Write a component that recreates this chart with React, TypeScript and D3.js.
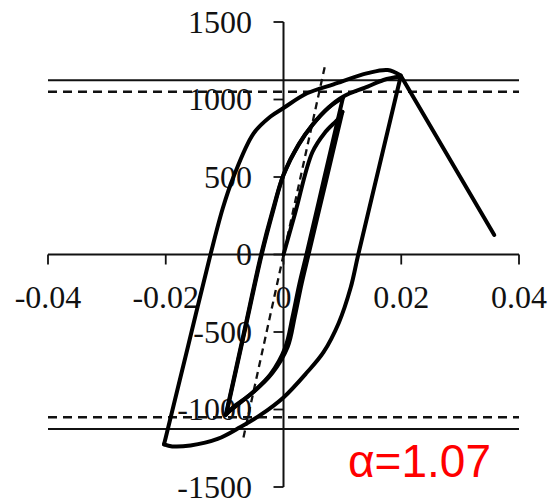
import React from "react";
import * as d3 from "d3";

// Drift ratio (rad) vs. load (kN) hysteresis
type Pt = [number, number];

const virginLoading: Pt[] = [
  [0, 0], [0.002, 270], [0.0049, 660], [0.0071, 790], [0.0094, 880], [0.0100, 920],
];
const unloading1: Pt[] = [
  [0.0100, 920], [0.00713, 460], [0.00425, 0], [0.0031, -184], [0.0019, -403],
  [0.0007, -597], [-0.0019, -765], [-0.0053, -894], [-0.0087, -990], [-0.0097, -1028],
];
const reloading1: Pt[] = [
  [-0.0097, -1028], [-0.0067, -514], [-0.0037, 0], [-0.0017, 290], [0, 513],
  [0.00255, 706], [0.0049, 835], [0.0076, 945], [0.0101, 1012],
];
const unloading2: Pt[] = [
  [0.0101, 1012], [0.0070, 506], [0.0039, 0], [0.0027, -190], [0.0015, -410],
  [0.0003, -600], [-0.0022, -772], [-0.0056, -902], [-0.0089, -1002], [-0.0098, -1035],
];
const reloading2: Pt[] = [
  [-0.0098, -1035], [-0.0068, -518], [-0.0038, 0], [-0.0018, 290], [0, 515],
  [0.0026, 712], [0.0050, 840], [0.0077, 950], [0.0101, 1018], [0.0143, 1083],
  [0.0170, 1126], [0.0199, 1148],
];
const unloading3: Pt[] = [
  [0.0199, 1148], [0.0163, 574], [0.0127, 0], [0.0114, -215], [0.0094, -440],
  [0.0068, -630], [0.0040, -760], [0, -922], [-0.0039, -1035], [-0.0073, -1113],
  [-0.0112, -1190], [-0.0158, -1232], [-0.0189, -1238], [-0.0203, -1225],
];
const reloading3: Pt[] = [
  [-0.0203, -1225], [-0.0200, -1180], [-0.0162, -590], [-0.0124, 0], [-0.0103, 300],
  [-0.0085, 500], [-0.0051, 780], [-0.0022, 890], [0, 945], [0.0040, 1040],
  [0.0085, 1098], [0.0143, 1170], [0.0177, 1190], [0.0199, 1155],
];
const softening: Pt[] = [
  [0.0199, 1155], [0.0358, 126],
];

const branches: Pt[][] = [
  virginLoading, unloading1, reloading1, unloading2, reloading2,
  unloading3, reloading3, softening,
];

// Reference strength levels and initial stiffness line
const solidLevels = [1125, -1125];
const dashedLevels = [1050, -1050];
const stiffnessLine: Pt[] = [[-0.0068, -1180], [0.0070, 1210]];

const xTicks = [-0.04, -0.02, 0, 0.02, 0.04];
const xTickLabels = ["-0.04", "-0.02", "0", "0.02", "0.04"];
const yTicks = [1500, 1000, 500, 0, -500, -1000, -1500];
const yTickLabels = ["1500", "1000", "500", "0", "-500", "-1000", "-1500"];

const W = 552;
const H = 500;

export default function App() {
  const x = d3.scaleLinear().domain([-0.04, 0.04]).range([48, 519]);
  const y = d3.scaleLinear().domain([-1500, 1500]).range([487, 22]);
  const line = d3
    .line<Pt>()
    .x((d) => x(d[0]))
    .y((d) => y(d[1]))
    .curve(d3.curveCatmullRom.alpha(0.5));
  const straight = d3
    .line<Pt>()
    .x((d) => x(d[0]))
    .y((d) => y(d[1]));

  const x0 = x(0);
  const y0 = y(0);
  const serif = "'Liberation Serif', 'Times New Roman', serif";

  return (
    <svg
      width={W}
      height={H}
      style={{ position: "absolute", left: 0, top: 0, background: "#fff" }}
    >
      <rect width={W} height={H} fill="#fff" />

      {/* strength levels */}
      {solidLevels.map((v) => (
        <line key={"s" + v} x1={x(-0.04)} x2={x(0.04)} y1={y(v)} y2={y(v)}
          stroke="#111" strokeWidth={2} />
      ))}
      {dashedLevels.map((v) => (
        <line key={"d" + v} x1={x(-0.04)} x2={x(0.04)} y1={y(v)} y2={y(v)}
          stroke="#111" strokeWidth={2.4} strokeDasharray="9,6" />
      ))}

      {/* axes */}
      <line x1={x(-0.04)} x2={x(0.04)} y1={y0} y2={y0} stroke="#111" strokeWidth={2.2} />
      <line x1={x0} x2={x0} y1={y(1500)} y2={y(-1500)} stroke="#111" strokeWidth={2} />
      {xTicks.map((t, i) => (
        <g key={"xt" + i}>
          <line x1={x(t)} x2={x(t)} y1={y0} y2={y0 + 10} stroke="#111" strokeWidth={1.8} />
          <text x={x(t)} y={308} textAnchor="middle" fontFamily={serif} fontSize={32} fill="#111">
            {xTickLabels[i]}
          </text>
        </g>
      ))}
      {yTicks.map((t, i) => (
        <g key={"yt" + i}>
          <line x1={x0 - 10} x2={x0} y1={y(t)} y2={y(t)} stroke="#111" strokeWidth={1.8} />
          <text x={252} y={y(t) + 10.5} textAnchor="end" fontFamily={serif} fontSize={32} fill="#111">
            {yTickLabels[i]}
          </text>
        </g>
      ))}

      {/* initial stiffness */}
      <path d={straight(stiffnessLine) ?? ""} fill="none" stroke="#111"
        strokeWidth={2.3} strokeDasharray="7,5" />

      {/* hysteresis branches */}
      {branches.map((b, i) => (
        <path key={"b" + i} d={line(b) ?? ""} fill="none" stroke="#000"
          strokeWidth={4} strokeLinejoin="round" strokeLinecap="round" />
      ))}

      <text x={348} y={477} fontFamily="'Liberation Sans', Arial, sans-serif"
        fontSize={46} fill="#ff0000">
        α=1.07
      </text>
    </svg>
  );
}
